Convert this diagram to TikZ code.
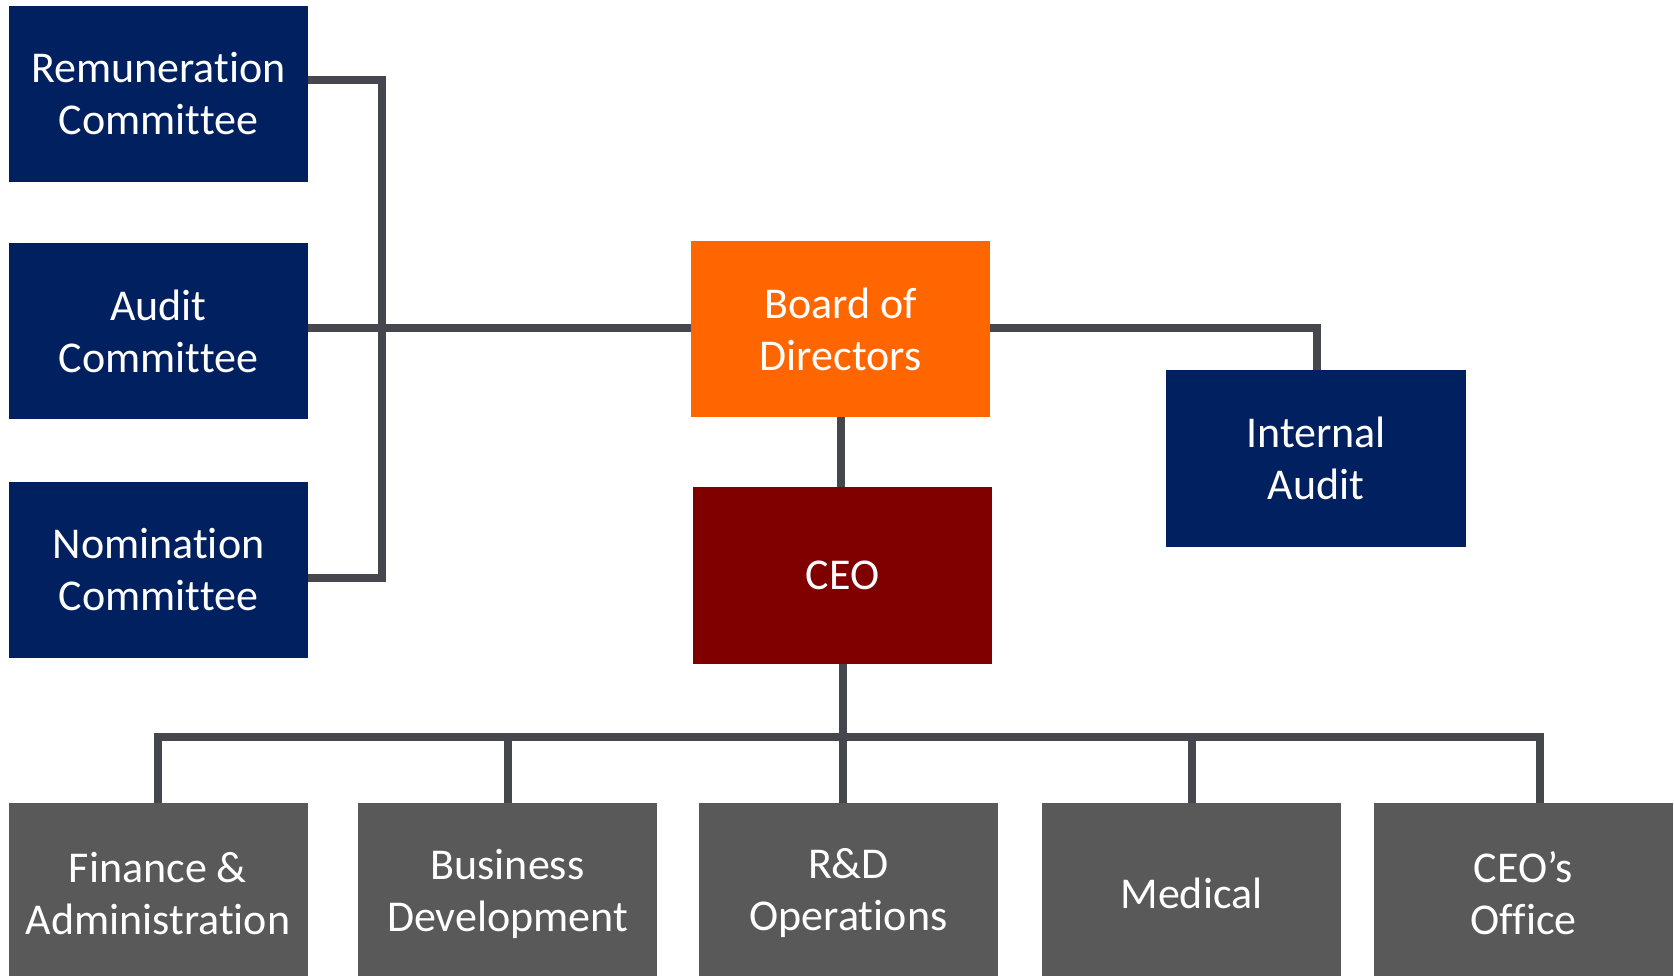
\documentclass[tikz,border=0pt]{standalone}
\usepackage{fontspec}
\setmainfont[Ligatures=NoCommon]{Carlito}
\definecolor{navy}{HTML}{002060}
\definecolor{boardorange}{HTML}{FF6600}
\definecolor{ceored}{HTML}{800000}
\definecolor{unitgray}{HTML}{595959}
\definecolor{linkgray}{HTML}{46464F}
\begin{document}
\begin{tikzpicture}[x=1pt,y=-1pt,
  box/.style={rectangle, inner sep=0pt, minimum width=299pt, minimum height=176pt,
    align=center, text=white, font=\fontsize{44}{52}\selectfont},
  committee/.style={box, fill=navy},
  unit/.style={box, fill=unitgray, minimum height=181pt},
  conn/.style={draw=linkgray, line width=8pt}]
\useasboundingbox (0,0) rectangle (1674,976);

% board committees
\node[committee] (rem) at (158.5,94)  {Remuneration\\Committee};
\node[committee] (aud) at (158.5,331) {Audit\\Committee};
\node[committee] (nom) at (158.5,570) {Nomination\\Committee};

% board, CEO and internal audit
\node[box, fill=boardorange] (board) at (840.5,329) {Board of\\Directors};
\node[box, fill=ceored, minimum height=177pt] (ceo) at (842.5,575.5) {CEO};
\node[committee, minimum width=300pt, minimum height=177pt] (ia) at (1316,458.5) {Internal\\Audit};

% operating units (boxes run past the lower edge)
\node[unit] (fin) at (158,893.5)    {Finance \&\\Administration};
\node[unit] (bus) at (507.5,893.5)  {Business\\Development};
\node[unit] (rd)  at (848.5,893.5)  {R\&D\\Operations};
\node[unit] (med) at (1191.5,893.5) {Medical};
\node[unit] (off) at (1523.5,893.5) {CEO’s\\Office};

% junction points
\coordinate (remj) at (382,80);
\coordinate (nomj) at (382,578);
\coordinate (audj) at (0,328);
\coordinate (iaj)  at (1317,328);
\coordinate (busl) at (158,737);
\coordinate (busr) at (1540,737);

% committees bracket
\draw[conn] (rem.east |- remj) -- (remj) -- (nomj) -- (nom.east |- nomj);
\draw[conn] (aud.east |- audj) -- (board.west |- audj);

% board links
\draw[conn] (board.south) -- (board.south |- ceo.north);
\draw[conn] (board.east |- iaj) -- (iaj) -- (iaj |- ia.north);

% CEO bus
\draw[conn] (ceo.south) -- (ceo.south |- busl);
\draw[conn] (fin.north) -- (busl) -- (busr) -- (busr |- off.north);
\draw[conn] (bus.north) -- (bus.north |- busl);
\draw[conn] (ceo.south |- rd.north) -- (ceo.south |- busl);
\draw[conn] (med.north) -- (med.north |- busl);
\end{tikzpicture}
\end{document}
